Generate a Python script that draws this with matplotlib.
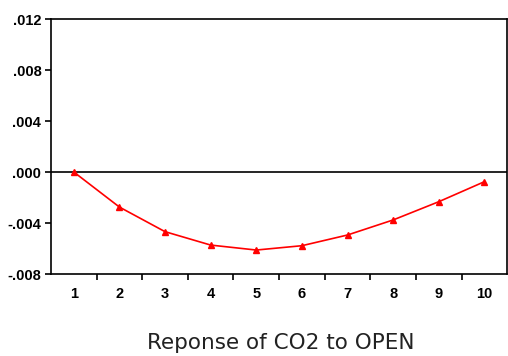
import numpy as np
import matplotlib
matplotlib.use('Agg')
import matplotlib.pyplot as plt
from matplotlib.ticker import FixedLocator, FuncFormatter

# response of CO2 to OPEN, periods 1..10
periods = [1, 2, 3, 4, 5, 6, 7, 8, 9, 10]
response = [0.0, -0.00275, -0.00468, -0.00573, -0.00612,
            -0.00578, -0.00494, -0.00376, -0.00233, -0.00076]
yticks = [-0.008, -0.004, 0.000, 0.004, 0.008, 0.012]

fig = plt.figure(figsize=(5.08, 3.56), dpi=100)
ax = fig.add_axes([0.1004, 0.2303, 0.898, 0.7163])

ax.axhline(0, color='black', lw=1.2, zorder=1)
ax.plot(periods, response, color='red', lw=1.2, marker='^', ms=4.5, zorder=2)

ax.set_xlim(0.5, 10.5)
ax.set_ylim(-0.008, 0.012)
ax.set_xticks(periods)
ax.xaxis.set_minor_locator(FixedLocator(np.arange(1.5, 10.5, 1.0)))
ax.tick_params(axis='x', which='major', length=0, pad=9)
ax.tick_params(axis='x', which='minor', length=4, width=1.2, direction='out')
ax.set_yticks(yticks)
ax.yaxis.set_major_formatter(FuncFormatter(
    lambda v, p: ('%.3f' % v).replace('0.', '.', 1) if abs(v) > 1e-12 else '.000'))
ax.tick_params(axis='y', length=4, width=1.2, direction='out', pad=3)

for lab in ax.get_xticklabels() + ax.get_yticklabels():
    lab.set_fontfamily('Liberation Sans')
    lab.set_fontweight('bold')
    lab.set_fontsize(10.5)

for s in ax.spines.values():
    s.set_linewidth(1.2)

fig.text(0.552, 0.036, 'Reponse of CO2 to OPEN', ha='center', va='center',
         fontsize=15.5, family='DejaVu Sans', color='#222222')

fig.savefig('out.png', dpi=100)
